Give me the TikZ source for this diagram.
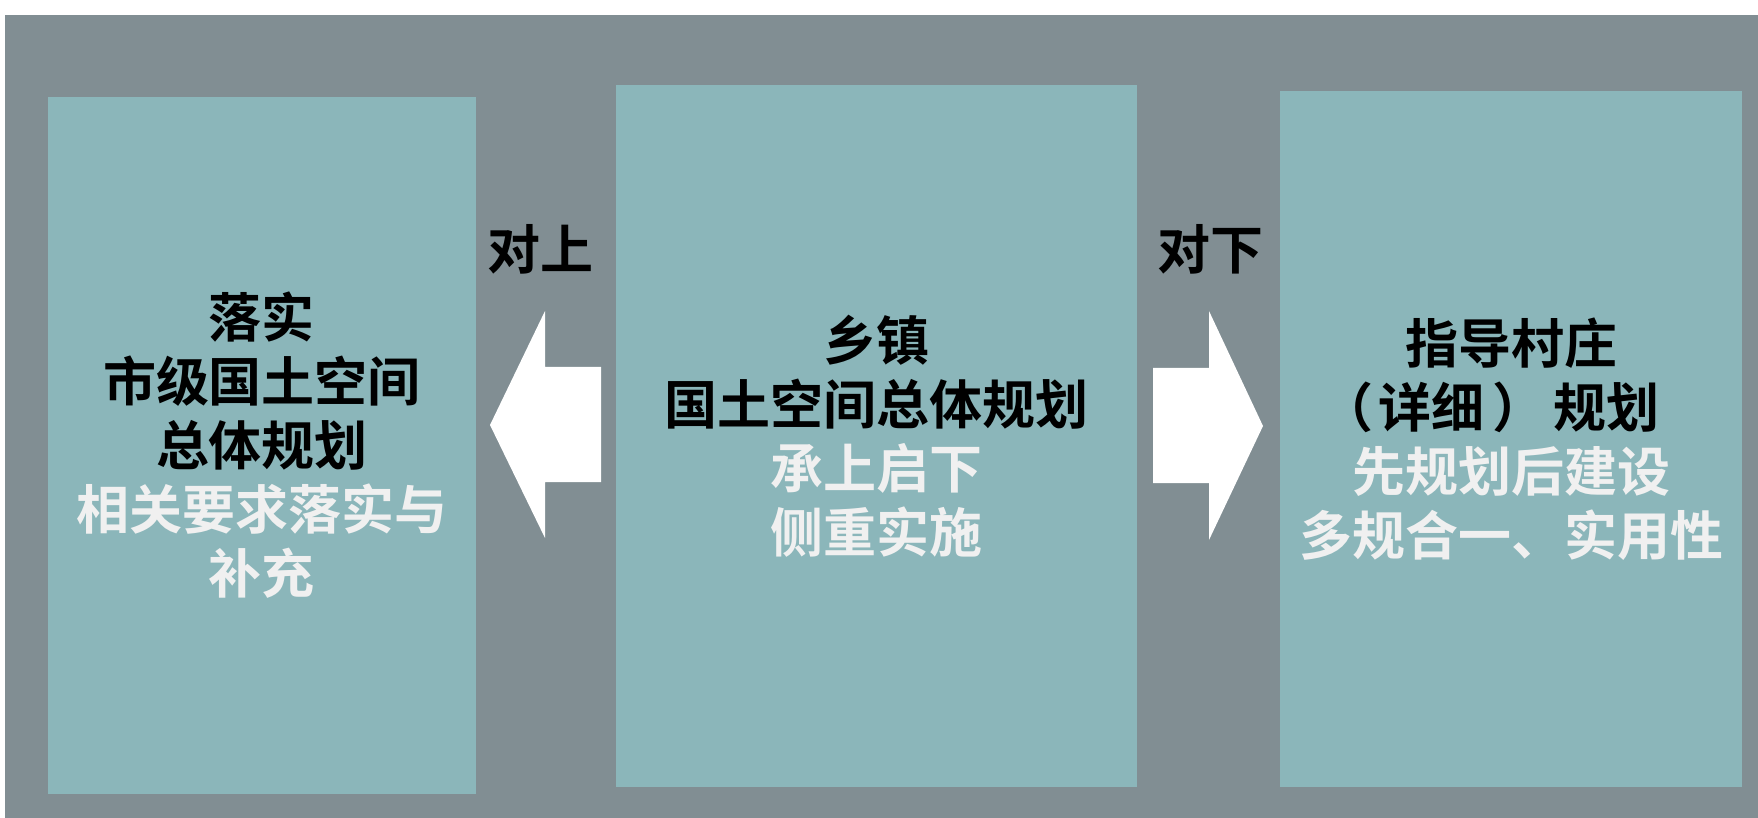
\documentclass[tikz,border=0pt]{standalone}
\usepackage{fontspec}
\newfontfamily\cjk{Noto Sans CJK SC Bold}
\definecolor{bggray}{HTML}{818E93}
\definecolor{boxteal}{HTML}{8BB6BA}
\definecolor{txtw}{HTML}{F0F0F0}
\tikzset{
  panel/.style={fill=boxteal, draw=none, inner sep=0pt},
  paneltext/.style={font=\cjk\fontsize{26.5}{32}\selectfont, align=center, inner sep=0pt, text=black},
  label/.style={font=\cjk\fontsize{26.5}{32}\selectfont, inner sep=0pt, text=black},
  blockarrow/.style={fill=white, draw=none}
}
\begin{document}
\begin{tikzpicture}[x=0.5pt,y=-0.5pt]
\useasboundingbox (0,0) rectangle (1758,818);
\fill[white] (0,0) rectangle (1758,818);
\fill[bggray] (5,15) rectangle (1758,818);
% panels
\node[panel, minimum width=214pt, minimum height=348.5pt] (L) at (262,445.5) {};
\node[panel, minimum width=260.5pt, minimum height=351pt] (M) at (876.5,436) {};
\node[panel, minimum width=231pt, minimum height=348pt] (R) at (1511,439) {};
% texts
\node[paneltext] (Lt) at (L.center) {落实\\市级国土空间\\总体规划\\\textcolor{txtw}{相关要求落实与}\\\textcolor{txtw}{补充}};
\node[paneltext] (Mt) at (M.center) {乡镇\\国土空间总体规划\\\textcolor{txtw}{承上启下}\\\textcolor{txtw}{侧重实施}};
\node[paneltext] (Rt) at (R.center) {指导村庄\\\kern-0.6em（\kern0.1em详细\kern0.15em）\kern0.15em规划\kern0.2em\\\textcolor{txtw}{先规划后建设}\\\textcolor{txtw}{多规合一、实用性}};
% labels
\node[label] (up) at (540,249) {对上};
\node[label] (down) at (1210,249) {对下};
% block arrows
\fill[blockarrow] (490,425) -- (545,311) -- (545,367) -- (601,367) -- (601,482) -- (545,482) -- (545,538) -- cycle;
\fill[blockarrow] (1153,368) -- (1209,368) -- (1209,311) -- (1263,426) -- (1209,540) -- (1209,483) -- (1153,483) -- cycle;
\end{tikzpicture}
\end{document}
